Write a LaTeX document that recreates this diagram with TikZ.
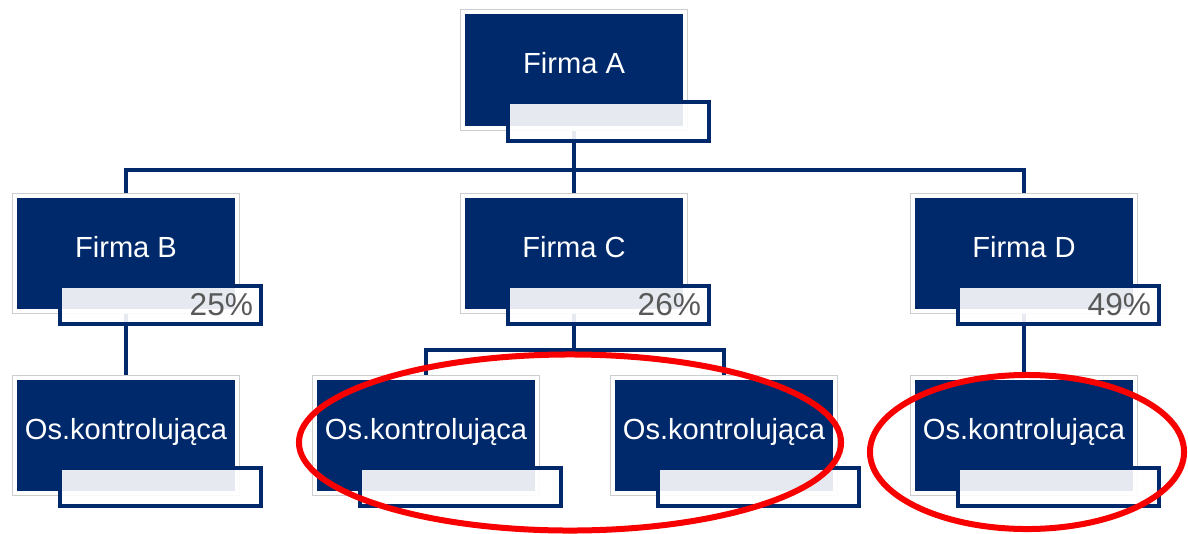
\documentclass[tikz,border=0pt]{standalone}
\usepackage{fontspec}
\setmainfont{Liberation Sans}
\usetikzlibrary{backgrounds}
\definecolor{navy}{RGB}{0,41,107}
\definecolor{framegray}{RGB}{205,205,205}
\definecolor{pctgray}{RGB}{89,89,89}
\definecolor{ringred}{RGB}{248,0,0}
\tikzset{
  firm/.style={rectangle,fill=navy,draw=white,line width=0.1cm,
    preaction={draw=framegray,line width=0.15cm},
    minimum width=5.55cm,minimum height=2.875cm,inner sep=0pt,
    text=white,font=\fontsize{20.7}{24}\selectfont,
    text height=0.525cm,text depth=0.35cm},
  share/.style={rectangle,draw=navy,line width=0.1cm,fill=white,fill opacity=0.9,
    text opacity=1,minimum width=5.025cm,minimum height=0.95cm,
    inner xsep=0.2cm,inner ysep=0pt,text width=4.625cm,align=right,
    text=pctgray,font=\fontsize{22.5}{24}\selectfont},
  conn/.style={draw=navy,line width=0.1cm},
  ring/.style={draw=ringred,line width=0.15cm}
}
\begin{document}
\begin{tikzpicture}[x=0.025cm,y=-0.025cm]
\pgfmathsetmacro{\dx}{34.5}
\pgfmathsetmacro{\dy}{51.5}
\useasboundingbox (0,0) rectangle (1188,533);
%
\node[firm](A) at (574,70) {Firma A};
\node[share](Ap) at ([shift={(\dx,\dy)}]A.center) {};
%
\node[firm](B) at (126,253.5) {Firma B};
\node[share](Bp) at ([shift={(\dx,\dy)}]B.center) {25\%};
%
\node[firm](C) at (574,253.5) {Firma C};
\node[share](Cp) at ([shift={(\dx,\dy)}]C.center) {26\%};
%
\node[firm](D) at (1024,253.5) {Firma D};
\node[share](Dp) at ([shift={(\dx,\dy)}]D.center) {49\%};
%
\node[firm](B1) at (126,435.5) {Os.kontrolująca};
\node[share](B1p) at ([shift={(\dx,\dy)}]B1.center) {};
%
\node[firm](C1) at (426,435.5) {Os.kontrolująca};
\node[share](C1p) at ([shift={(\dx,\dy)}]C1.center) {};
%
\node[firm](C2) at (724,435.5) {Os.kontrolująca};
\node[share](C2p) at ([shift={(\dx,\dy)}]C2.center) {};
%
\node[firm](D1) at (1024,435.5) {Os.kontrolująca};
\node[share](D1p) at ([shift={(\dx,\dy)}]D1.center) {};
%
\coordinate (busA) at (574,170);
\coordinate (busC) at (574,350);
\begin{scope}[on background layer]
\draw[conn](A.center)--(busA)-|(B.center);
\draw[conn](busA)--(C.center);
\draw[conn](busA)-|(D.center);
\draw[conn](B.center)--(B1.center);
\draw[conn](C.center)--(busC)-|(C1.center);
\draw[conn](busC)-|(C2.center);
\draw[conn](D.center)--(D1.center);
\end{scope}
%
\draw[ring](570,442.5) ellipse [x radius=6.775cm,y radius=2.2cm];
\draw[ring](1027,452) ellipse [x radius=3.925cm,y radius=1.925cm];
\end{tikzpicture}
\end{document}
